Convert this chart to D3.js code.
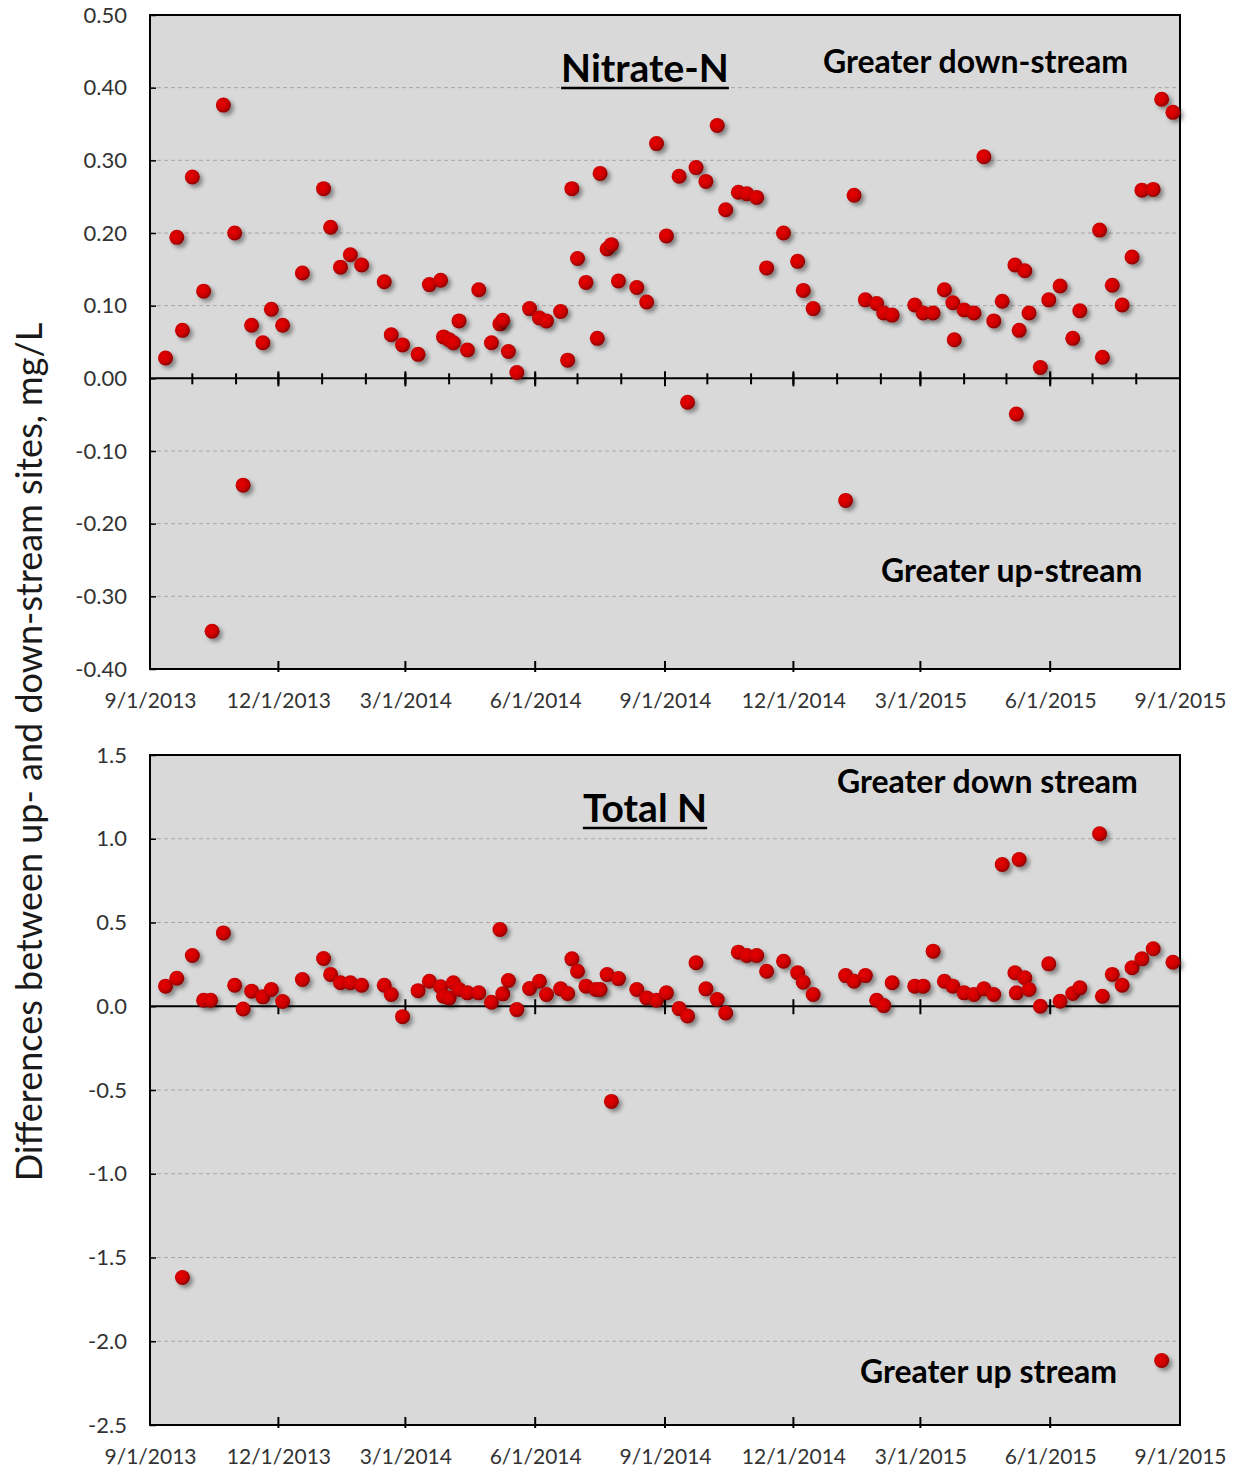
<!DOCTYPE html>
<html>
<head>
<meta charset="utf-8">
<script src="https://cdn.jsdelivr.net/npm/d3@7"></script>
<style>
  body { margin: 0; background: #fff; }
  svg { display: block; font-family: Lato, "Open Sans", sans-serif; }
</style>
</head>
<body>
<div id="chart"></div>
<script>
// sample dates and up/down-stream differences (mg/L)
var nitrateDates = [
  "2013-09-12","2013-09-20","2013-09-24","2013-10-01","2013-10-09","2013-10-15","2013-10-23","2013-10-31",
  "2013-11-06","2013-11-12","2013-11-20","2013-11-26","2013-12-04","2013-12-18",
  "2014-01-02","2014-01-07","2014-01-14","2014-01-21","2014-01-29","2014-02-14","2014-02-19","2014-02-27",
  "2014-03-10","2014-03-18","2014-03-26","2014-03-28","2014-04-01","2014-04-04","2014-04-08","2014-04-14",
  "2014-04-22","2014-05-01","2014-05-07","2014-05-09","2014-05-13","2014-05-19","2014-05-28","2014-06-04",
  "2014-06-09","2014-06-19","2014-06-24","2014-06-27","2014-07-01","2014-07-07","2014-07-15","2014-07-17",
  "2014-07-22","2014-07-25","2014-07-30","2014-08-12","2014-08-19","2014-08-26","2014-09-02","2014-09-11",
  "2014-09-17","2014-09-23","2014-09-30","2014-10-08","2014-10-14","2014-10-23","2014-10-29","2014-11-05",
  "2014-11-12","2014-11-24","2014-12-04","2014-12-08","2014-12-15",
  "2015-01-07","2015-01-13","2015-01-21","2015-01-29","2015-02-03","2015-02-09","2015-02-25","2015-03-03",
  "2015-03-10","2015-03-18","2015-03-24","2015-03-25","2015-04-01","2015-04-08","2015-04-15","2015-04-22",
  "2015-04-28","2015-05-07","2015-05-08","2015-05-10","2015-05-14","2015-05-17","2015-05-25","2015-05-31",
  "2015-06-08","2015-06-17","2015-06-22","2015-07-06","2015-07-08","2015-07-15","2015-07-22","2015-07-29",
  "2015-08-05","2015-08-13","2015-08-19","2015-08-27"]
var nitrateValues = [
  0.028,0.194,0.066,0.277,0.120,-0.348,0.376,0.200,
  -0.147,0.073,0.049,0.095,0.073,0.145,
  0.261,0.208,0.153,0.170,0.156,0.133,0.060,0.046,
  0.033,0.129,0.135,0.057,0.053,0.049,0.079,0.039,
  0.122,0.049,0.075,0.080,0.037,0.008,0.096,0.083,
  0.079,0.092,0.025,0.261,0.165,0.132,0.055,0.282,
  0.178,0.184,0.134,0.125,0.105,0.323,0.196,0.278,
  -0.033,0.290,0.271,0.348,0.232,0.256,0.254,0.249,
  0.152,0.200,0.161,0.121,0.096,
  -0.168,0.252,0.108,0.103,0.090,0.087,0.101,0.090,
  0.090,0.122,0.104,0.053,0.094,0.090,0.305,0.079,
  0.106,0.156,-0.049,0.066,0.148,0.090,0.015,0.108,
  0.127,0.055,0.093,0.204,0.029,0.128,0.101,0.167,
  0.259,0.260,0.384,0.366]

var totalNDates = [
  "2013-09-12","2013-09-20","2013-09-24","2013-10-01","2013-10-09","2013-10-14","2013-10-23","2013-10-31",
  "2013-11-06","2013-11-12","2013-11-20","2013-11-26","2013-12-04","2013-12-18",
  "2014-01-02","2014-01-07","2014-01-14","2014-01-21","2014-01-29","2014-02-14","2014-02-19","2014-02-27",
  "2014-03-10","2014-03-18","2014-03-26","2014-03-28","2014-04-01","2014-04-04","2014-04-08","2014-04-14",
  "2014-04-22","2014-05-01","2014-05-07","2014-05-09","2014-05-13","2014-05-19","2014-05-28","2014-06-04",
  "2014-06-09","2014-06-19","2014-06-24","2014-06-27","2014-07-01","2014-07-07","2014-07-14","2014-07-17",
  "2014-07-22","2014-07-25","2014-07-30","2014-08-12","2014-08-19","2014-08-26","2014-09-02","2014-09-11",
  "2014-09-17","2014-09-23","2014-09-30","2014-10-08","2014-10-14","2014-10-23","2014-10-29","2014-11-05",
  "2014-11-12","2014-11-24","2014-12-04","2014-12-08","2014-12-15",
  "2015-01-07","2015-01-13","2015-01-21","2015-01-29","2015-02-03","2015-02-09","2015-02-25","2015-03-03",
  "2015-03-10","2015-03-18","2015-03-24","2015-04-01","2015-04-08","2015-04-15","2015-04-22","2015-04-28",
  "2015-05-07","2015-05-08","2015-05-10","2015-05-14","2015-05-17","2015-05-25","2015-05-31","2015-06-08",
  "2015-06-17","2015-06-22","2015-07-06","2015-07-08","2015-07-15","2015-07-22","2015-07-29","2015-08-05",
  "2015-08-13","2015-08-19","2015-08-27"]
var totalNValues = [
  0.12,0.167,-1.619,0.303,0.036,0.036,0.438,0.125,
  -0.016,0.09,0.056,0.10,0.028,0.16,
  0.285,0.19,0.14,0.14,0.125,0.125,0.07,-0.062,
  0.093,0.149,0.116,0.06,0.05,0.14,0.10,0.08,
  0.08,0.024,0.458,0.074,0.154,-0.02,0.106,0.149,
  0.07,0.104,0.076,0.283,0.209,0.12,0.10,0.10,
  0.189,-0.568,0.165,0.10,0.05,0.036,0.08,-0.014,
  -0.058,0.26,0.104,0.04,-0.04,0.323,0.303,0.303,
  0.209,0.269,0.20,0.143,0.07,
  0.183,0.149,0.183,0.036,0.004,0.14,0.12,0.12,
  0.329,0.149,0.12,0.08,0.07,0.104,0.07,0.846,
  0.20,0.08,0.876,0.17,0.10,0.0,0.253,0.03,
  0.076,0.11,1.03,0.06,0.19,0.125,0.23,0.283,
  0.343,-2.115,0.263]

var nitrateTicks = [-0.4,-0.3,-0.2,-0.1,0,0.1,0.2,0.3,0.4,0.5]
var totalNTicks = [-2.5,-2.0,-1.5,-1.0,-0.5,0,0.5,1.0,1.5]
var quarterTicks = ["2013-09-01","2013-12-01","2014-03-01","2014-06-01","2014-09-01",
  "2014-12-01","2015-03-01","2015-06-01","2015-09-01"]

var width = 1239, height = 1473
var left = 150, right = 1180
var parseDate = d3.timeParse("%Y-%m-%d")
var fmt = d3.formatLocale({decimal: ".", thousands: ",", grouping: [3], currency: ["$", ""], minus: "-"})

var svg = d3.select("#chart").append("svg")
  .attr("width", width)
  .attr("height", height)

var defs = svg.append("defs")
var grad = defs.append("radialGradient").attr("id", "dotFill")
  .attr("cx", "40%").attr("cy", "40%").attr("r", "60%")
grad.append("stop").attr("offset", "0%").attr("stop-color", "#e80000")
grad.append("stop").attr("offset", "65%").attr("stop-color", "#cc0000")
grad.append("stop").attr("offset", "100%").attr("stop-color", "#8e0000")
defs.append("filter").attr("id", "shadow")
  .attr("x", "-50%").attr("y", "-50%").attr("width", "200%").attr("height", "200%")
  .append("feDropShadow")
  .attr("dx", 3).attr("dy", 3).attr("stdDeviation", 2)
  .attr("flood-color", "#000").attr("flood-opacity", 0.4)

var x = d3.scaleTime()
  .domain([parseDate("2013-09-01"), parseDate("2015-09-01")])
  .range([left, right])

function drawPanel(cfg) {
  var y = d3.scaleLinear().domain(d3.extent(cfg.ticks)).range([cfg.bottom, cfg.top])
  var g = svg.append("g")

  g.append("rect")
    .attr("x", left).attr("y", cfg.top)
    .attr("width", right - left).attr("height", cfg.bottom - cfg.top)
    .attr("fill", "#d9d9d9")

  g.selectAll(".grid")
    .data(cfg.ticks.filter(function(t) { return t !== 0 && t !== cfg.ticks[0] && t !== cfg.ticks[cfg.ticks.length-1] }))
    .enter().append("line")
    .attr("x1", left).attr("x2", right)
    .attr("y1", function(d) { return y(d) }).attr("y2", function(d) { return y(d) })
    .attr("stroke", "#a6a6a6").attr("stroke-width", 1).attr("stroke-dasharray", "4,3")

  // y axis labels + inner ticks
  var yAxis = g.append("g")
    .attr("transform", "translate(" + left + ",0)")
    .call(d3.axisLeft(y).tickValues(cfg.ticks).tickFormat(fmt.format(cfg.format))
      .tickSizeInner(-6).tickSizeOuter(0).tickPadding(23))
  yAxis.select(".domain").remove()
  yAxis.selectAll("line").attr("stroke", "#000").attr("stroke-width", 1.5)
  yAxis.selectAll("text").attr("font-size", 22).attr("fill", "#333")
    .attr("font-family", "Lato, sans-serif")

  // x labels under the plot
  var xAxis = g.append("g")
    .attr("transform", "translate(0," + cfg.bottom + ")")
    .call(d3.axisBottom(x).tickValues(quarterTicks.map(parseDate))
      .tickFormat(d3.timeFormat("%-m/%-d/%Y")).tickSize(0).tickPadding(24))
  xAxis.select(".domain").remove()
  xAxis.selectAll("text").attr("font-size", 21).attr("fill", "#333")
    .attr("font-family", "Lato, sans-serif")

  var majors = quarterTicks.map(parseDate)

  // ticks on the bottom border
  g.selectAll(".btick").data(majors.slice(1, -1)).enter().append("line")
    .attr("x1", function(d) { return x(d) }).attr("x2", function(d) { return x(d) })
    .attr("y1", cfg.bottom - 8).attr("y2", cfg.bottom + 3)
    .attr("stroke", "#000").attr("stroke-width", 2)

  // zero line with crossing ticks
  var y0 = y(0)
  g.append("line")
    .attr("x1", left).attr("x2", right).attr("y1", y0).attr("y2", y0)
    .attr("stroke", "#000").attr("stroke-width", 2)
  if (cfg.minorTicks) {
    g.selectAll(".mtick").data(x.ticks(d3.timeMonth.every(1))).enter().append("line")
      .attr("x1", function(d) { return x(d) }).attr("x2", function(d) { return x(d) })
      .attr("y1", y0 - 5).attr("y2", y0 + 6)
      .attr("stroke", "#000").attr("stroke-width", 2)
  }
  g.selectAll(".ztick").data(majors.slice(1)).enter().append("line")
    .attr("x1", function(d) { return x(d) }).attr("x2", function(d) { return x(d) })
    .attr("y1", y0 - 7).attr("y2", y0 + 8)
    .attr("stroke", "#000").attr("stroke-width", 2)

  g.append("rect")
    .attr("x", left).attr("y", cfg.top)
    .attr("width", right - left).attr("height", cfg.bottom - cfg.top)
    .attr("fill", "none").attr("stroke", "#000").attr("stroke-width", 2)

  // annotations
  var title = g.append("text")
    .attr("x", 645).attr("y", cfg.titleY)
    .attr("text-anchor", "middle")
    .attr("font-size", 39).attr("font-weight", "bold").attr("fill", "#000")
    .text(cfg.title)
  var tw = title.node().getComputedTextLength()
  g.append("line")
    .attr("x1", 645 - tw / 2).attr("x2", 645 + tw / 2)
    .attr("y1", cfg.titleY + 6).attr("y2", cfg.titleY + 6)
    .attr("stroke", "#000").attr("stroke-width", 2.5)

  g.append("text")
    .attr("x", cfg.downX).attr("y", cfg.downY)
    .attr("font-size", 32).attr("font-weight", "bold").attr("fill", "#000")
    .text(cfg.downText)
  g.append("text")
    .attr("x", cfg.upX).attr("y", cfg.upY)
    .attr("font-size", 32).attr("font-weight", "bold").attr("fill", "#000")
    .text(cfg.upText)

  var pts = cfg.dates.map(function(d, i) { return {date: parseDate(d), value: cfg.values[i]} })
  g.selectAll(".dot").data(pts).enter().append("circle")
    .attr("cx", function(d) { return x(d.date) })
    .attr("cy", function(d) { return y(d.value) })
    .attr("r", 7.5)
    .attr("fill", "url(#dotFill)")
    .attr("filter", "url(#shadow)")
}

drawPanel({
  top: 15, bottom: 669, ticks: nitrateTicks, format: ".2f", minorTicks: true,
  dates: nitrateDates, values: nitrateValues,
  title: "Nitrate-N", titleY: 82,
  downText: "Greater down-stream", downX: 823, downY: 73,
  upText: "Greater up-stream", upX: 881, upY: 582
})

drawPanel({
  top: 755, bottom: 1425, ticks: totalNTicks, format: ".1f", minorTicks: false,
  dates: totalNDates, values: totalNValues,
  title: "Total N", titleY: 822,
  downText: "Greater down stream", downX: 837, downY: 793,
  upText: "Greater up stream", upX: 860, upY: 1383
})

svg.append("text")
  .attr("transform", "translate(42,752) rotate(-90)")
  .attr("text-anchor", "middle")
  .attr("font-size", 36).attr("fill", "#1a1a1a")
  .text("Differences between up- and down-stream sites, mg/L")
</script>
</body>
</html>
